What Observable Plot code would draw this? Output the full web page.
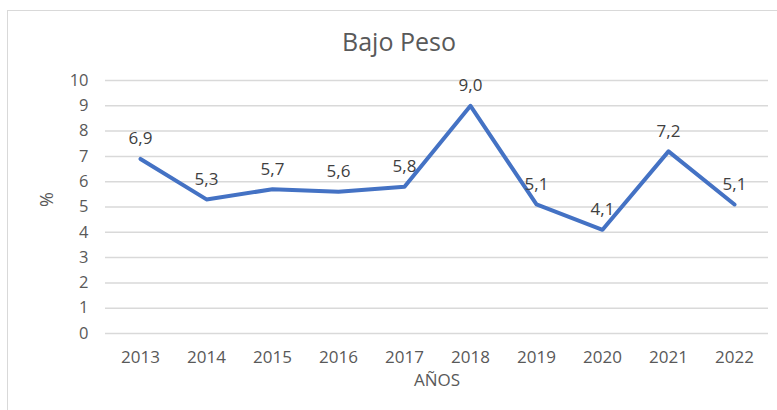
<!DOCTYPE html>
<html>
<head>
<meta charset="utf-8">
<script src="https://cdn.jsdelivr.net/npm/d3@7"></script>
<script src="https://cdn.jsdelivr.net/npm/@observablehq/plot@0.6"></script>
<style>
  html, body { margin: 0; padding: 0; background: #fff; }
  #wrap { position: relative; width: 777px; height: 410px; overflow: hidden; font-family: "Open Sans", sans-serif; }
  #frame { position: absolute; left: 7px; top: 10px; width: 800px; height: 420px; border: 1.5px solid #d9d9d9; box-sizing: border-box; }
  #title { position: absolute; top: 24px; left: 0; width: 798px; text-align: center; font-size: 25px; color: #595959; line-height: 34px; }
  #chart { position: absolute; left: 0; top: 0; }
</style>
</head>
<body>
<div id="wrap">
  <div id="frame"></div>
  <div id="title">Bajo Peso</div>
  <div id="chart"></div>
</div>
<script>
const years = ["2013","2014","2015","2016","2017","2018","2019","2020","2021","2022"];
const values = [6.9, 5.3, 5.7, 5.6, 5.8, 9.0, 5.1, 4.1, 7.2, 5.1];
const yTicks = [0,1,2,3,4,5,6,7,8,9,10];

const data = years.map((y, i) => ({year: y, value: values[i]}));
const fmt = v => v.toFixed(1).replace(".", ",");

const chart = Plot.plot({
  width: 777,
  height: 410,
  marginLeft: 105,
  marginRight: 9,
  marginTop: 80,
  marginBottom: 77,
  style: {background: "transparent", fontFamily: "Open Sans, sans-serif", color: "#595959"},
  x: {type: "point", domain: years, padding: 0.5},
  y: {domain: [0, 10], ticks: yTicks},
  marks: [
    Plot.gridY(yTicks, {stroke: "#d9d9d9", strokeOpacity: 1, strokeWidth: 1.5}),
    Plot.axisY(yTicks, {tickSize: 0, tickPadding: 17, fontSize: 16.5, fill: "#595959", tickFormat: d => String(d),
      label: null}),
    Plot.axisX({tickSize: 0, tickPadding: 17, fontSize: 17, fill: "#595959", label: null}),
    Plot.text(["%"], {frameAnchor: "left", dx: -58, rotate: -90, fontSize: 18, fill: "#595959"}),
    Plot.text(["AÑOS"], {frameAnchor: "bottom", dy: 52, fontSize: 17, fill: "#595959"}),
    Plot.line(data, {x: "year", y: "value", stroke: "#4472C4", strokeWidth: 4, strokeLinejoin: "round", strokeLinecap: "round"}),
    Plot.text(data, {x: "year", y: "value", text: d => fmt(d.value), dy: -20, fontSize: 17, fill: "#404040"})
  ]
});
document.getElementById("chart").appendChild(chart);
</script>
</body>
</html>
